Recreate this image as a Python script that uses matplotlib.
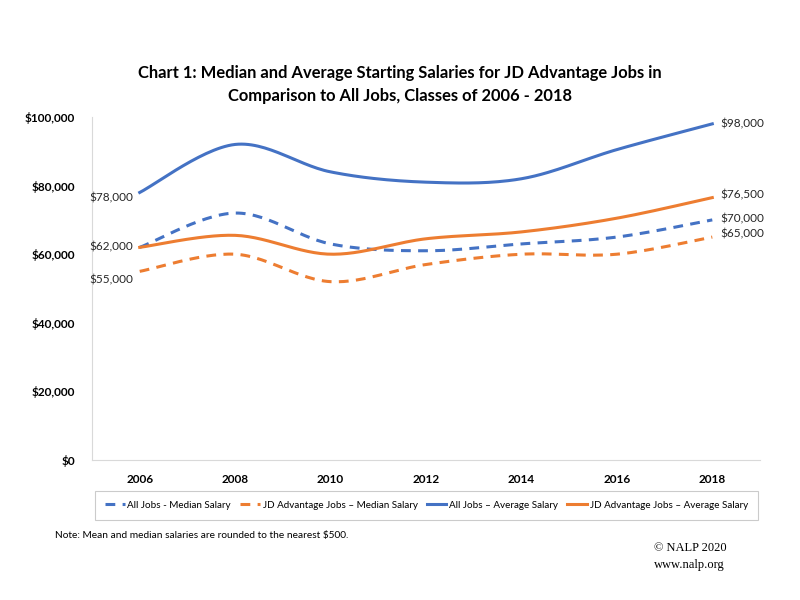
import matplotlib
matplotlib.use("Agg")
import matplotlib.pyplot as plt
import numpy as np
from matplotlib.ticker import FuncFormatter

years = ["2006", "2008", "2010", "2012", "2014", "2016", "2018"]
all_median = [62000, 72000, 63000, 61000, 63000, 65000, 70000]
jd_median = [55000, 60000, 52000, 57000, 60000, 60000, 65000]
all_avg = [78000, 92000, 84000, 81000, 82000, 90500, 98000]
jd_avg = [62000, 65500, 60000, 64500, 66500, 70500, 76500]

names = ["All Jobs - Median Salary", "JD Advantage Jobs \u2013 Median Salary",
         "All Jobs \u2013 Average Salary", "JD Advantage Jobs \u2013 Average Salary"]

blue = "#4472C4"
orange = "#ED7D31"

plt.rcParams['font.family'] = ['Lato', 'DejaVu Sans']


def smooth(ys, n=30):
    # catmull-rom curve through the points, like excel's smoothed line
    xs = np.arange(len(ys), dtype=float)
    ys = np.asarray(ys, dtype=float)
    px = np.concatenate([[xs[0]], xs, [xs[-1]]])
    py = np.concatenate([[ys[0]], ys, [ys[-1]]])
    outx, outy = [], []
    t = np.linspace(0, 1, n)
    for i in range(1, len(px) - 2):
        p0x, p1x, p2x, p3x = px[i-1], px[i], px[i+1], px[i+2]
        p0y, p1y, p2y, p3y = py[i-1], py[i], py[i+1], py[i+2]
        c1x = p1x + (p2x - p0x) / 6
        c1y = p1y + (p2y - p0y) / 6
        c2x = p2x - (p3x - p1x) / 6
        c2y = p2y - (p3y - p1y) / 6
        bx = (1-t)**3*p1x + 3*(1-t)**2*t*c1x + 3*(1-t)*t**2*c2x + t**3*p2x
        by = (1-t)**3*p1y + 3*(1-t)**2*t*c1y + 3*(1-t)*t**2*c2y + t**3*p2y
        outx.extend(bx)
        outy.extend(by)
    return np.array(outx), np.array(outy)


fig = plt.figure(figsize=(8, 6), dpi=100)
ax = fig.add_axes([0.115, 0.2333, 0.835, 0.5717])

series = [(all_median, blue, '--'), (jd_median, orange, '--'),
          (all_avg, blue, '-'), (jd_avg, orange, '-')]
for (vals, col, ls), name in zip(series, names):
    sx, sy = smooth(vals)
    if ls == '--':
        ax.plot(sx, sy, color=col, lw=2.2, dashes=(3.2, 2.4), label=name)
    else:
        ax.plot(sx, sy, color=col, lw=2.2, label=name)

ax.set_xlim(-0.5, len(years) - 0.5)
ax.set_ylim(0, 100000)
ax.set_yticks(np.arange(0, 100001, 20000))
ax.yaxis.set_major_formatter(FuncFormatter(lambda v, p: "${:,.0f}".format(v)))
ax.set_xticks(range(len(years)))
ax.set_xticklabels(years)
for lab in ax.get_xticklabels() + ax.get_yticklabels():
    lab.set_fontweight('bold')
    lab.set_fontsize(8.5)
ax.tick_params(axis='both', length=0, pad=10)
ax.tick_params(axis='y', pad=12)
for s in ['top', 'right']:
    ax.spines[s].set_visible(False)
for s in ['left', 'bottom']:
    ax.spines[s].set_color('#d9d9d9')

# data labels at the ends
lab_fs = 8.5
left_labels = [(all_avg[0], -4), (all_median[0], 0), (jd_median[0], -6)]
for v, dy in left_labels:
    ax.annotate("${:,.0f}".format(v), (0, v), xytext=(-5, dy), textcoords='offset points',
                ha='right', va='center', fontsize=lab_fs, color='#262626')
right_labels = [(all_avg[-1], 0), (jd_avg[-1], 2), (all_median[-1], 1), (jd_median[-1], 2)]
for v, dy in right_labels:
    ax.annotate("${:,.0f}".format(v), (6, v), xytext=(6, dy), textcoords='offset points',
                ha='left', va='center', fontsize=lab_fs, color='#262626')

fig.text(0.5, 0.878, "Chart 1: Median and Average Starting Salaries for JD Advantage Jobs in",
         ha='center', va='center', fontsize=11.9, fontweight='bold')
fig.text(0.5, 0.840, "Comparison to All Jobs, Classes of 2006 - 2018",
         ha='center', va='center', fontsize=11.9, fontweight='bold')

leg = fig.legend(loc='center', bbox_to_anchor=(0.533, 0.158), ncol=4, fontsize=7.1,
                 frameon=True, fancybox=False, handlelength=2.0, handletextpad=0.3,
                 columnspacing=0.9, borderpad=1.0)
leg.get_frame().set_edgecolor('#bfbfbf')
leg.get_frame().set_linewidth(0.8)

fig.text(0.069, 0.108, "Note: Mean and median salaries are rounded to the nearest $500.",
         ha='left', va='center', fontsize=7.3)
fig.text(0.818, 0.087, "\u00a9 NALP 2020", ha='left', va='center', fontsize=9,
         family='Liberation Serif')
fig.text(0.818, 0.058, "www.nalp.org", ha='left', va='center', fontsize=9,
         family='Liberation Serif')

fig.savefig("out.png", dpi=100)
